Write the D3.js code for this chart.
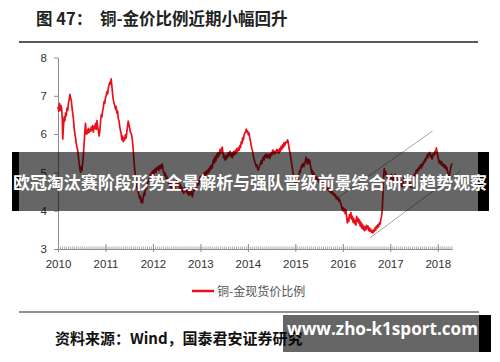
<!DOCTYPE html>
<html><head><meta charset="utf-8">
<script src="https://cdn.jsdelivr.net/npm/d3@7"></script>
<style>html,body{margin:0;padding:0;background:#fff;}svg{display:block;}</style>
</head><body>
<svg id="c" width="500" height="362"></svg>
<script>
const titleFig = "图 47：";
const titleText = "铜-金价比例近期小幅回升";
const legendLabel = "铜-金现货价比例";
const sourceText = "资料来源：Wind，国泰君安证券研究";
const bannerText = "欧冠淘汰赛阶段形势全景解析与强队晋级前景综合研判趋势观察";
const watermarkText = "www.zho-k1sport.com";
const yearTicks = [2010, 2011, 2012, 2013, 2014, 2015, 2016, 2017, 2018];
const yTicks = [3, 4, 5, 6, 7, 8];
const upperTrend = [[2015.83, 4.28], [2017.89, 6.08]];
const lowerTrend = [[2016.57, 3.29], [2018.48, 5.04]];
const ratioSeries = [
[2010.00,6.72],[2010.015,6.60],[2010.03,6.80],[2010.045,6.62],[2010.06,6.75],[2010.075,6.68],[2010.09,6.40],[2010.10,5.87],[2010.115,6.20],[2010.13,6.45],[2010.145,6.35],[2010.16,6.55],[2010.175,6.48],[2010.19,6.68],[2010.205,6.62],[2010.22,6.80],[2010.235,6.90],[2010.25,7.04],[2010.265,6.95],[2010.28,6.88],[2010.295,6.70],[2010.31,6.55],[2010.325,6.40],[2010.34,6.15],[2010.355,6.02],[2010.37,5.90],[2010.385,5.76],[2010.40,5.65],[2010.415,5.58],[2010.43,5.40],[2010.445,5.25],[2010.46,5.10],[2010.475,5.00],[2010.49,5.15],[2010.505,5.05],[2010.52,5.25],[2010.535,5.45],[2010.55,5.75],[2010.565,6.05],[2010.58,6.28],[2010.595,6.00],[2010.61,6.10],[2010.625,6.02],[2010.64,6.15],[2010.655,6.05],[2010.67,6.12],[2010.685,6.08],[2010.70,6.18],[2010.715,6.10],[2010.73,6.22],[2010.745,6.05],[2010.76,6.20],[2010.775,6.15],[2010.79,6.28],[2010.805,6.12],[2010.82,6.35],[2010.835,6.20],[2010.85,6.10],[2010.865,5.95],[2010.88,6.05],[2010.895,6.30],[2010.91,6.50],[2010.925,6.45],[2010.94,6.60],[2010.955,6.70],[2010.97,6.85],[2010.985,6.80],
[2011.00,6.95],[2011.015,7.00],[2011.03,7.10],[2011.045,7.05],[2011.06,7.20],[2011.075,7.28],[2011.09,7.35],[2011.105,7.30],[2011.12,7.44],[2011.135,7.25],[2011.15,7.05],[2011.165,6.90],[2011.18,6.80],[2011.195,6.75],[2011.21,6.65],[2011.225,6.72],[2011.24,6.55],[2011.255,6.60],[2011.27,6.40],[2011.285,6.35],[2011.30,6.20],[2011.315,6.10],[2011.33,6.02],[2011.345,5.85],[2011.36,5.95],[2011.375,5.80],[2011.39,5.90],[2011.405,5.85],[2011.42,5.98],[2011.435,5.90],[2011.45,6.05],[2011.465,6.20],[2011.48,6.34],[2011.495,6.25],[2011.51,6.15],[2011.525,6.05],[2011.54,6.02],[2011.555,5.95],[2011.57,5.80],[2011.585,5.60],[2011.60,5.30],[2011.615,5.10],[2011.63,4.90],[2011.645,4.80],[2011.66,4.62],[2011.675,4.55],[2011.69,4.48],[2011.705,4.40],[2011.72,4.32],[2011.735,4.38],[2011.75,4.22],[2011.765,4.30],[2011.78,4.20],[2011.795,4.35],[2011.81,4.45],[2011.825,4.40],[2011.84,4.55],[2011.855,4.62],[2011.87,4.58],[2011.885,4.70],[2011.90,4.80],[2011.915,4.75],[2011.93,4.88],[2011.945,4.95],[2011.96,4.90],[2011.975,5.00],[2011.99,4.98],
[2012.005,5.05],[2012.02,4.95],[2012.035,5.05],[2012.05,5.10],[2012.065,5.00],[2012.08,5.12],[2012.095,5.08],[2012.11,5.15],[2012.125,5.05],[2012.14,5.18],[2012.155,5.10],[2012.17,5.20],[2012.185,5.12],[2012.20,5.22],[2012.215,5.05],[2012.23,5.00],[2012.245,4.92],[2012.26,4.98],[2012.275,4.85],[2012.29,4.90],[2012.305,4.78],[2012.32,4.85],[2012.335,4.70],[2012.35,4.75],[2012.365,4.62],[2012.38,4.70],[2012.395,4.55],[2012.41,4.65],[2012.425,4.72],[2012.44,4.60],[2012.455,4.68],[2012.47,4.58],[2012.485,4.70],[2012.50,4.80],[2012.515,4.72],[2012.53,4.65],[2012.545,4.75],[2012.56,4.60],[2012.575,4.68],[2012.59,4.55],[2012.605,4.62],[2012.62,4.50],[2012.635,4.58],[2012.65,4.45],[2012.665,4.55],[2012.68,4.62],[2012.695,4.50],[2012.71,4.58],[2012.725,4.45],[2012.74,4.52],[2012.755,4.40],[2012.77,4.48],[2012.785,4.42],[2012.80,4.55],[2012.815,4.45],[2012.83,4.36],[2012.845,4.48],[2012.86,4.58],[2012.875,4.52],[2012.89,4.65],[2012.905,4.72],[2012.92,4.62],[2012.935,4.70],[2012.95,4.78],[2012.965,4.68],[2012.98,4.80],[2012.995,4.88],
[2013.01,4.82],[2013.025,4.92],[2013.04,4.85],[2013.055,4.95],[2013.07,4.88],[2013.085,5.00],[2013.10,4.92],[2013.115,5.02],[2013.13,4.95],[2013.145,5.05],[2013.16,4.98],[2013.175,5.10],[2013.19,5.02],[2013.205,5.15],[2013.22,5.08],[2013.235,5.20],[2013.25,5.12],[2013.265,5.28],[2013.28,5.35],[2013.295,5.25],[2013.31,5.42],[2013.325,5.30],[2013.34,5.38],[2013.355,5.50],[2013.37,5.40],[2013.385,5.52],[2013.40,5.45],[2013.415,5.60],[2013.43,5.50],[2013.445,5.62],[2013.46,5.66],[2013.475,5.50],[2013.49,5.38],[2013.505,5.45],[2013.52,5.32],[2013.535,5.42],[2013.55,5.35],[2013.565,5.48],[2013.58,5.40],[2013.595,5.52],[2013.61,5.45],[2013.625,5.55],[2013.64,5.42],[2013.655,5.50],[2013.67,5.38],[2013.685,5.48],[2013.70,5.55],[2013.715,5.45],[2013.74,5.58],[2013.755,5.50],[2013.77,5.62],[2013.785,5.55],[2013.80,5.64],[2013.815,5.58],[2013.83,5.70],[2013.845,5.65],[2013.86,5.80],[2013.875,5.75],[2013.89,5.90],[2013.905,5.85],[2013.92,5.98],[2013.935,6.02],[2013.95,6.05],[2013.965,6.13],[2013.98,6.05],[2013.995,6.08],
[2014.01,5.98],[2014.025,6.03],[2014.04,5.90],[2014.055,5.82],[2014.07,5.70],[2014.085,5.62],[2014.10,5.55],[2014.115,5.42],[2014.13,5.35],[2014.145,5.28],[2014.16,5.22],[2014.175,5.15],[2014.19,5.20],[2014.205,5.10],[2014.22,5.06],[2014.235,5.12],[2014.25,5.18],[2014.265,5.24],[2014.28,5.30],[2014.295,5.22],[2014.31,5.35],[2014.325,5.40],[2014.34,5.32],[2014.355,5.45],[2014.37,5.40],[2014.385,5.48],[2014.40,5.38],[2014.415,5.45],[2014.43,5.40],[2014.445,5.48],[2014.46,5.36],[2014.475,5.42],[2014.49,5.50],[2014.505,5.45],[2014.52,5.58],[2014.535,5.50],[2014.55,5.56],[2014.565,5.48],[2014.58,5.55],[2014.595,5.52],[2014.61,5.60],[2014.625,5.52],[2014.64,5.58],[2014.655,5.50],[2014.67,5.62],[2014.685,5.55],[2014.70,5.68],[2014.715,5.60],[2014.73,5.72],[2014.745,5.65],[2014.76,5.78],[2014.775,5.70],[2014.79,5.75],[2014.805,5.80],[2014.82,5.78],[2014.835,5.85],[2014.85,5.80],[2014.865,5.65],[2014.88,5.55],[2014.895,5.45],[2014.91,5.32],[2014.925,5.20],[2014.94,5.10],[2014.955,4.95],[2014.97,4.85],[2014.985,4.75],
[2015.00,4.70],[2015.015,4.62],[2015.03,4.75],[2015.045,4.88],[2015.06,4.82],[2015.075,4.95],[2015.09,5.05],[2015.105,5.00],[2015.12,5.12],[2015.135,5.20],[2015.15,5.15],[2015.165,5.24],[2015.18,5.15],[2015.195,5.22],[2015.21,5.30],[2015.225,5.40],[2015.24,5.30],[2015.255,5.22],[2015.27,5.35],[2015.285,5.25],[2015.30,5.32],[2015.315,5.20],[2015.33,5.10],[2015.345,4.98],[2015.36,5.05],[2015.375,4.92],[2015.39,4.98],[2015.405,4.88],[2015.42,4.92],[2015.435,4.82],[2015.45,4.88],[2015.465,4.78],[2015.48,4.84],[2015.495,4.75],[2015.51,4.80],[2015.525,4.72],[2015.54,4.78],[2015.555,4.68],[2015.57,4.74],[2015.585,4.65],[2015.60,4.70],[2015.615,4.62],[2015.63,4.67],[2015.645,4.58],[2015.66,4.63],[2015.675,4.55],[2015.69,4.60],[2015.705,4.52],[2015.72,4.56],[2015.735,4.48],[2015.75,4.53],[2015.765,4.45],[2015.78,4.50],[2015.795,4.42],[2015.81,4.45],[2015.825,4.38],[2015.84,4.42],[2015.855,4.34],[2015.87,4.38],[2015.885,4.30],[2015.90,4.33],[2015.915,4.25],[2015.93,4.30],[2015.945,4.22],[2015.96,4.18],[2015.975,4.10],[2015.99,4.02],
[2016.005,4.08],[2016.02,3.98],[2016.035,4.05],[2016.05,3.92],[2016.065,4.02],[2016.08,3.85],[2016.095,3.68],[2016.11,3.80],[2016.125,3.72],[2016.14,3.90],[2016.155,3.82],[2016.17,3.95],[2016.185,3.78],[2016.20,3.86],[2016.215,3.70],[2016.23,3.80],[2016.245,3.66],[2016.26,3.75],[2016.275,3.62],[2016.29,3.85],[2016.305,3.72],[2016.32,3.80],[2016.335,3.68],[2016.35,3.76],[2016.365,3.60],[2016.38,3.70],[2016.395,3.55],[2016.41,3.65],[2016.425,3.52],[2016.44,3.60],[2016.455,3.48],[2016.47,3.58],[2016.485,3.50],[2016.50,3.62],[2016.515,3.54],[2016.53,3.60],[2016.545,3.48],[2016.56,3.55],[2016.575,3.46],[2016.59,3.52],[2016.605,3.44],[2016.62,3.48],[2016.635,3.42],[2016.65,3.50],[2016.665,3.46],[2016.68,3.56],[2016.695,3.50],[2016.71,3.60],[2016.725,3.55],[2016.74,3.64],[2016.755,3.58],[2016.77,3.68],[2016.785,3.65],[2016.80,3.76],[2016.815,3.85],[2016.83,4.00],[2016.845,4.40],[2016.855,4.80],[2016.865,5.00],[2016.875,5.10],[2016.89,4.95],[2016.905,5.02],[2016.92,4.88],[2016.935,4.92],[2016.95,4.80],[2016.965,4.88],[2016.98,4.82],[2016.995,4.92],
[2017.01,4.85],[2017.025,4.95],[2017.04,4.80],[2017.055,4.90],[2017.07,4.76],[2017.085,4.85],[2017.10,4.95],[2017.115,4.85],[2017.13,4.90],[2017.145,4.78],[2017.16,4.86],[2017.175,4.75],[2017.19,4.82],[2017.205,4.70],[2017.22,4.78],[2017.235,4.65],[2017.25,4.62],[2017.265,4.72],[2017.28,4.85],[2017.295,4.90],[2017.31,4.80],[2017.325,4.85],[2017.34,4.75],[2017.355,4.80],[2017.37,4.70],[2017.385,4.76],[2017.40,4.66],[2017.415,4.72],[2017.43,4.62],[2017.445,4.68],[2017.46,4.60],[2017.475,4.72],[2017.49,4.85],[2017.505,4.95],[2017.52,4.90],[2017.535,5.00],[2017.55,5.06],[2017.565,5.00],[2017.58,5.10],[2017.595,5.05],[2017.61,5.15],[2017.625,5.10],[2017.64,5.20],[2017.655,5.12],[2017.67,5.22],[2017.685,5.18],[2017.70,5.28],[2017.715,5.25],[2017.73,5.35],[2017.745,5.30],[2017.76,5.40],[2017.775,5.45],[2017.79,5.38],[2017.805,5.50],[2017.82,5.45],[2017.835,5.52],[2017.85,5.40],[2017.865,5.45],[2017.88,5.35],[2017.895,5.42],[2017.91,5.50],[2017.925,5.45],[2017.94,5.55],[2017.955,5.50],[2017.97,5.64],[2017.985,5.55],
[2018.00,5.42],[2018.015,5.35],[2018.03,5.25],[2018.045,5.30],[2018.06,5.22],[2018.075,5.28],[2018.09,5.18],[2018.105,5.24],[2018.12,5.15],[2018.135,5.20],[2018.15,5.12],[2018.165,5.18],[2018.18,5.08],[2018.195,5.12],[2018.21,5.00],[2018.225,4.95],[2018.24,4.88],[2018.255,4.98],[2018.27,5.10],[2018.285,5.18],[2018.30,5.24]
];

const svg = d3.select("#c");
const CJK = "'Noto Sans CJK SC', 'Noto Sans', sans-serif";
const LAT = "'Liberation Sans', Arial, sans-serif";

const x = d3.scaleLinear().domain([2010, 2018.3]).range([58, 452]);
const y = d3.scaleLinear().domain([3, 8]).range([249, 57.5]);

// Title
svg.append("text").attr("x", 36).attr("y", 25).attr("font-family", CJK).attr("font-weight", 700)
  .attr("font-size", 16.5).attr("fill", "#222").text(titleFig);
svg.append("text").attr("x", 100).attr("y", 25).attr("font-family", CJK).attr("font-weight", 700)
  .attr("font-size", 16.5).attr("fill", "#222").text(titleText);
svg.append("line").attr("x1", 19).attr("x2", 478).attr("y1", 42).attr("y2", 42)
  .attr("stroke", "#222").attr("stroke-width", 1.4);

// Y axis
const yAxis = d3.axisLeft(y).tickValues(yTicks).tickSize(4).tickSizeOuter(0).tickPadding(7).tickFormat(d3.format("d"));
const gy = svg.append("g").attr("transform", "translate(58,0)").call(yAxis);
gy.select(".domain").attr("stroke", "#8c8c8c");
gy.selectAll(".tick line").attr("stroke", "#8c8c8c");
gy.selectAll("text").attr("font-family", LAT).attr("font-size", 11.5).attr("fill", "#333");

// X axis
const minorTicks = d3.range(0, 8.3 * 24 + 0.5).map(i => 2010 + i / 24);
const gxm = svg.append("g").attr("transform", "translate(0,249)")
  .call(d3.axisTop(x).tickValues(minorTicks).tickSize(2.5).tickSizeOuter(0).tickFormat(""));
gxm.select(".domain").remove();
gxm.selectAll(".tick line").attr("stroke", "#9a9a9a").attr("stroke-width", 0.8);
const gxu = svg.append("g").attr("transform", "translate(0,249)")
  .call(d3.axisTop(x).tickValues(yearTicks).tickSize(5).tickSizeOuter(0).tickFormat(""));
gxu.select(".domain").remove();
gxu.selectAll(".tick line").attr("stroke", "#8c8c8c");
const gx = svg.append("g").attr("transform", "translate(0,249)")
  .call(d3.axisBottom(x).tickValues(yearTicks).tickSize(3).tickSizeOuter(0).tickPadding(8).tickFormat(d3.format("d")));
gx.select(".domain").attr("stroke", "#8c8c8c");
gx.selectAll(".tick line").attr("stroke", "#8c8c8c");
gx.selectAll("text").attr("font-family", LAT).attr("font-size", 11.5).attr("fill", "#333");

// Trend channel
const lineGen = d3.line().x(d => x(d[0])).y(d => y(d[1]));
[upperTrend, lowerTrend].forEach(t => {
  svg.append("path").attr("d", lineGen(t)).attr("fill", "none").attr("stroke", "#a6a6a6").attr("stroke-width", 1);
});

// Series
svg.append("path").attr("d", lineGen(ratioSeries)).attr("fill", "none")
  .attr("stroke", "#e8101a").attr("stroke-width", 1.7).attr("stroke-linejoin", "round");

// Legend
svg.append("line").attr("x1", 192).attr("x2", 214).attr("y1", 291).attr("y2", 291)
  .attr("stroke", "#e8101a").attr("stroke-width", 2.5);
svg.append("text").attr("x", 217).attr("y", 295.5).attr("font-family", CJK).attr("font-size", 12)
  .attr("fill", "#555").text(legendLabel);

// Bottom rule and source
svg.append("line").attr("x1", 19).attr("x2", 479).attr("y1", 312).attr("y2", 312)
  .attr("stroke", "#222").attr("stroke-width", 1.2);
svg.append("text").attr("x", 55).attr("y", 344).attr("font-family", CJK).attr("font-weight", 700)
  .attr("font-size", 15).attr("fill", "#111").text(sourceText);

// Banner overlay
svg.append("rect").attr("x", 12).attr("y", 152).attr("width", 477).attr("height", 59).attr("fill", "rgba(0,0,0,0.6)");
svg.append("rect").attr("x", 12).attr("y", 152).attr("width", 7).attr("height", 59).attr("fill", "#000");
svg.append("rect").attr("x", 478).attr("y", 152).attr("width", 11).attr("height", 59).attr("fill", "#000");
svg.append("text").attr("x", 13).attr("y", 189).attr("font-family", CJK).attr("font-weight", 700)
  .attr("font-size", 17).attr("fill", "#fff").attr("textLength", 474).attr("lengthAdjust", "spacingAndGlyphs")
  .text(bannerText);

// Watermark
svg.append("rect").attr("x", 283).attr("y", 315).attr("width", 196).attr("height", 37).attr("fill", "rgba(0,0,0,0.6)");
svg.append("rect").attr("x", 479).attr("y", 315).attr("width", 12).attr("height", 37).attr("fill", "#000");
svg.append("text").attr("x", 287).attr("y", 335).attr("font-family", "'Open Sans', 'DejaVu Sans', sans-serif").attr("font-weight", 700)
  .attr("font-size", 17).attr("fill", "#fff").attr("textLength", 191).attr("lengthAdjust", "spacingAndGlyphs")
  .text(watermarkText);
</script>
</body></html>
